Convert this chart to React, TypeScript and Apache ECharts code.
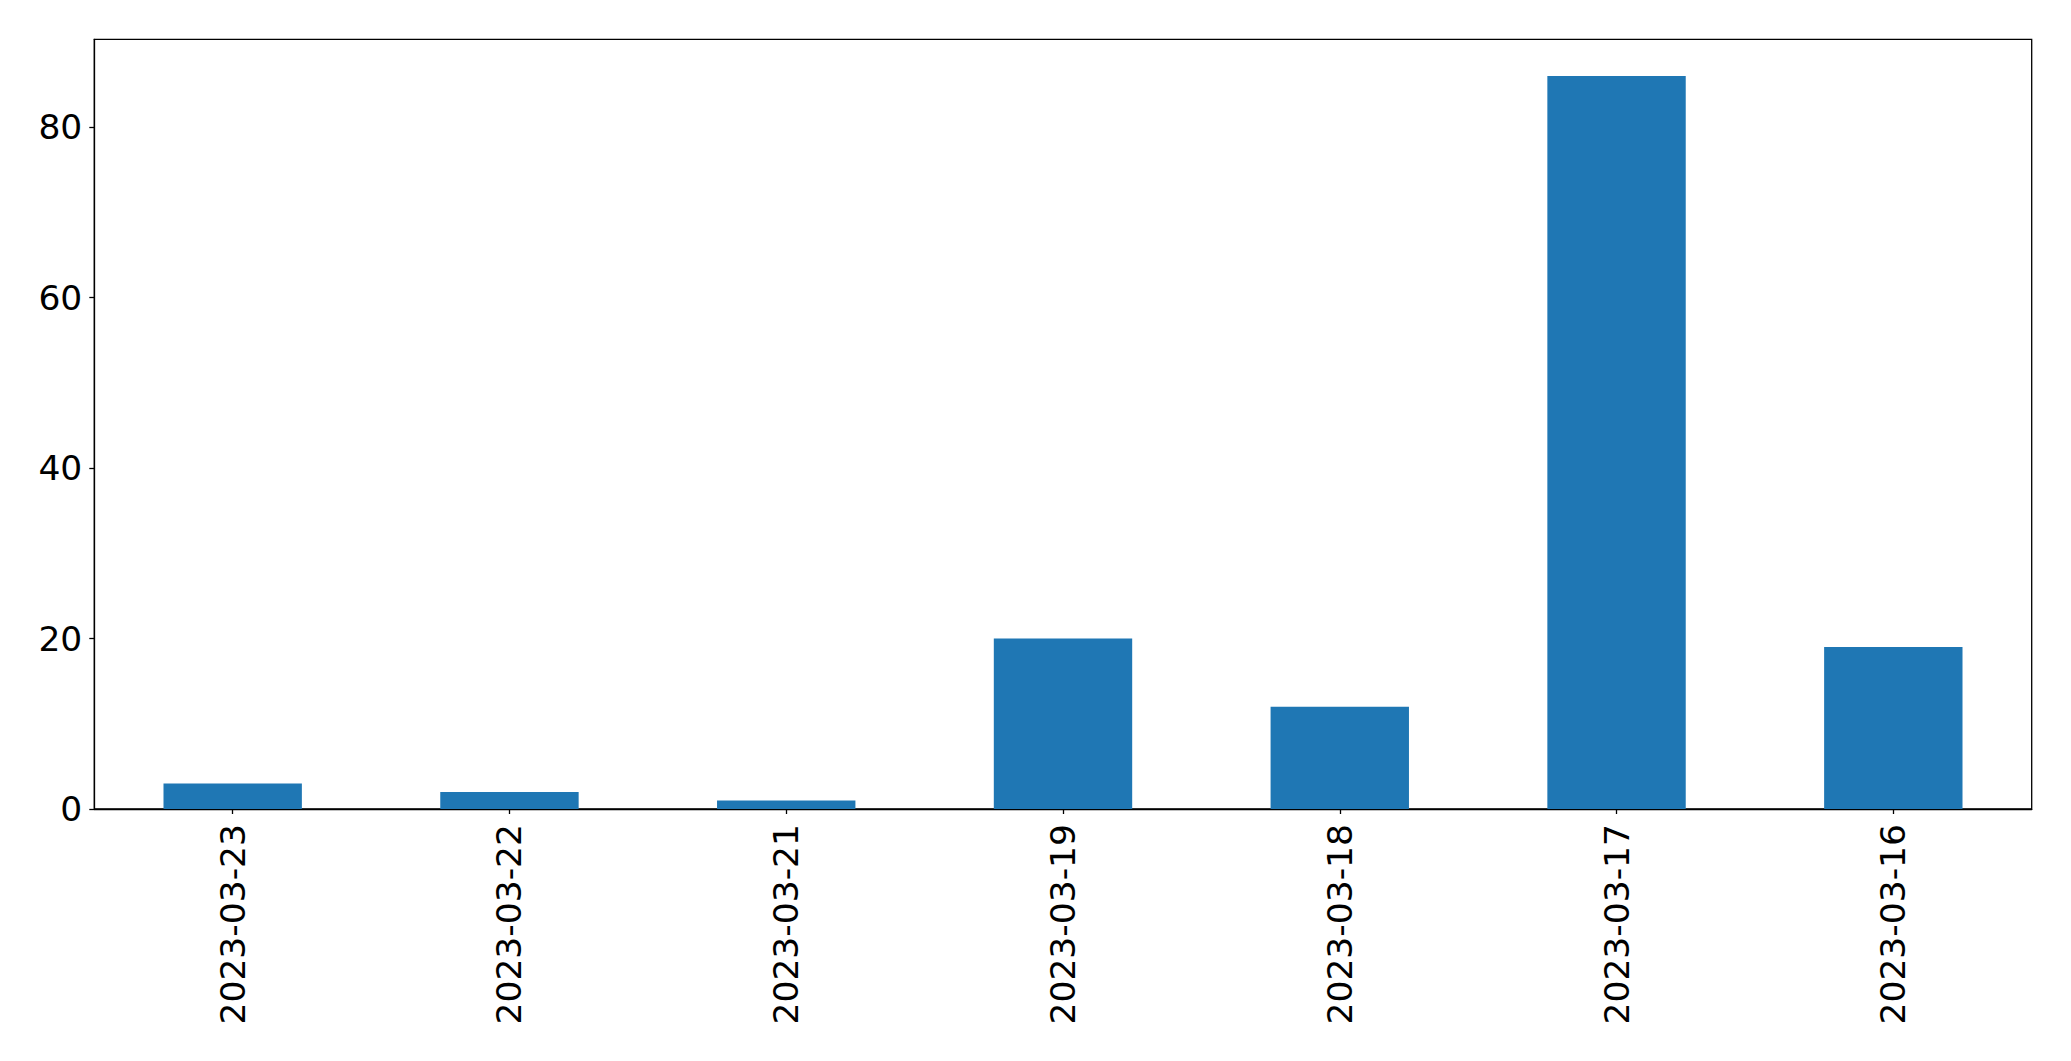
import React, { useEffect, useRef } from "react";
import * as echarts from "echarts";

const categories = ["2023-03-23", "2023-03-22", "2023-03-21", "2023-03-19", "2023-03-18", "2023-03-17", "2023-03-16"];
const values = [3, 2, 1, 20, 12, 86, 19];
const yTicks = [0, 20, 40, 60, 80];
const yMax = 90.3;

export default function App() {
  const ref = useRef<HTMLDivElement>(null);
  useEffect(() => {
    if (!ref.current) return;
    const chart = echarts.init(ref.current, null, { renderer: "svg" });
    const font = "DejaVu Sans";
    chart.setOption({
      animation: false,
      backgroundColor: "#ffffff",
      grid: {
        left: 94.3,
        right: 39.3,
        top: 39.3,
        bottom: 252,
        show: true,
        borderColor: "#000",
        borderWidth: 1.3,
        containLabel: false,
      },
      xAxis: {
        type: "category",
        data: categories,
        boundaryGap: true,
        axisLine: { show: true, lineStyle: { color: "#000", width: 1.3 } },
        axisTick: { show: true, alignWithLabel: true, length: 5, lineStyle: { color: "#000", width: 1.3 } },
        axisLabel: {
          rotate: 90,
          margin: 15,
          fontFamily: font,
          fontSize: 34.5,
          color: "#000",
          interval: 0,
        },
        splitLine: { show: false },
      },
      yAxis: {
        type: "value",
        min: 0,
        max: yMax,
        interval: 20,
        axisLine: { show: true, lineStyle: { color: "#000", width: 1.3 } },
        axisTick: { show: true, length: 5, customValues: yTicks, lineStyle: { color: "#000", width: 1.3 } },
        axisLabel: {
          margin: 12,
          fontFamily: font,
          fontSize: 34.5,
          color: "#000",
          customValues: yTicks,
        },
        splitLine: { show: false },
      },
      series: [
        {
          type: "bar",
          data: values,
          barWidth: "50%",
          itemStyle: { color: "#1f77b4" },
        },
      ],
    });
    return () => chart.dispose();
  }, []);
  return (
    <div
      ref={ref}
      style={{ position: "fixed", left: 0, top: 0, width: 2071, height: 1061, background: "#fff" }}
    />
  );
}
